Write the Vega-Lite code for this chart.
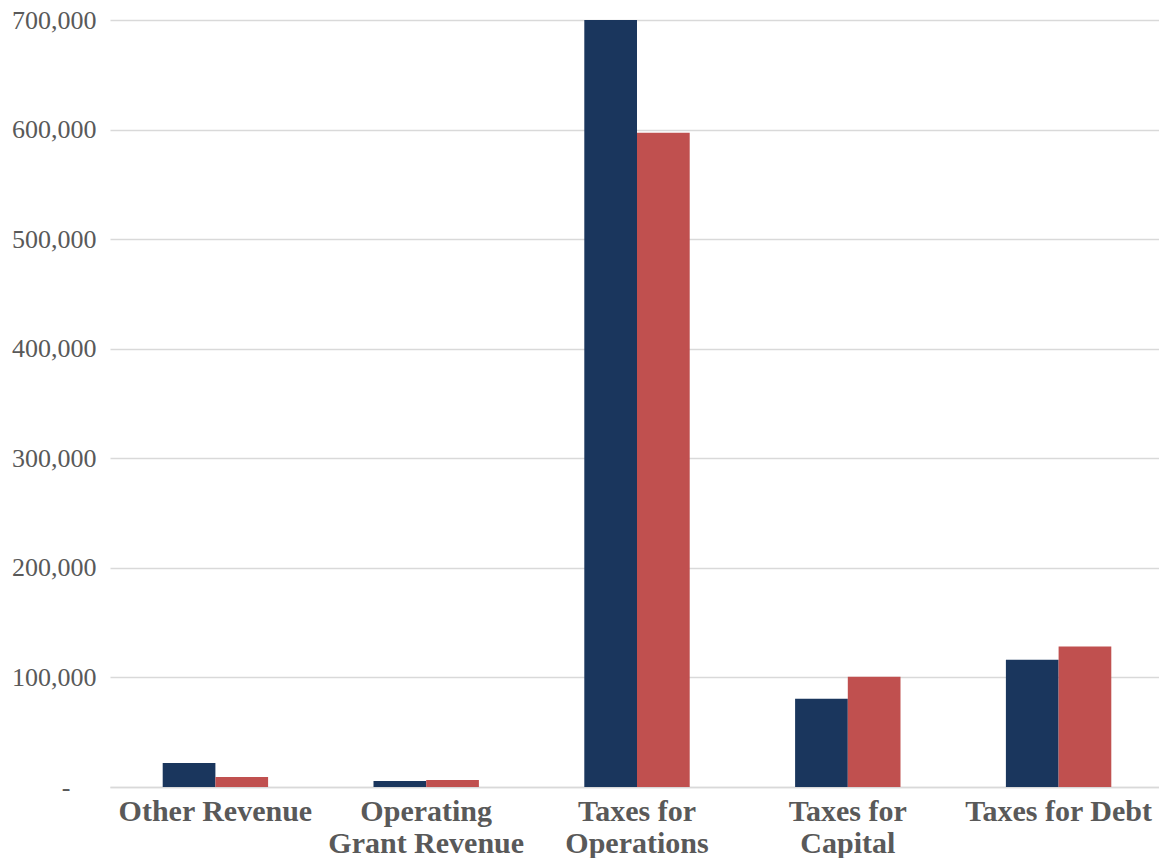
{
  "$schema": "https://vega.github.io/schema/vega-lite/v6.json",
  "width": 1049,
  "height": 767,
  "autosize": {"type": "none"},
  "padding": {"left": 110, "top": 20, "right": 0, "bottom": 71},
  "background": "white",
  "config": {
    "view": {"stroke": null},
    "font": "Liberation Serif"
  },
  "data": {
    "values": [
      {"category": "Other Revenue", "series": "Prior Year", "amount": 22000},
      {"category": "Other Revenue", "series": "Current Year", "amount": 9200},
      {"category": "Operating Grant Revenue", "series": "Prior Year", "amount": 5500},
      {"category": "Operating Grant Revenue", "series": "Current Year", "amount": 6400},
      {"category": "Taxes for Operations", "series": "Prior Year", "amount": 700000},
      {"category": "Taxes for Operations", "series": "Current Year", "amount": 597000},
      {"category": "Taxes for Capital", "series": "Prior Year", "amount": 80500},
      {"category": "Taxes for Capital", "series": "Current Year", "amount": 100600},
      {"category": "Taxes for Debt", "series": "Prior Year", "amount": 116200},
      {"category": "Taxes for Debt", "series": "Current Year", "amount": 128200}
    ]
  },
  "mark": {"type": "bar", "clip": true},
  "encoding": {
    "x": {
      "field": "category",
      "type": "nominal",
      "sort": ["Other Revenue", "Operating Grant Revenue", "Taxes for Operations", "Taxes for Capital", "Taxes for Debt"],
      "scale": {"paddingInner": 0.5, "paddingOuter": 0.25, "range": [0, 1054]},
      "axis": {
        "title": null,
        "labelAngle": 0,
        "domain": true,
        "domainColor": "#D9D9D9",
        "domainWidth": 1.5,
        "ticks": false,
        "labelFont": "Liberation Serif",
        "labelFontSize": 30,
        "labelFontWeight": "bold",
        "labelColor": "#595959",
        "labelPadding": 9,
        "labelBaseline": "top",
        "labelLineHeight": 32,
        "labelLimit": 0,
        "labelExpr": "datum.value == 'Operating Grant Revenue' ? ['Operating', 'Grant Revenue'] : datum.value == 'Taxes for Operations' ? ['Taxes for', 'Operations'] : datum.value == 'Taxes for Capital' ? ['Taxes for', 'Capital'] : datum.label"
      }
    },
    "xOffset": {
      "field": "series",
      "type": "nominal",
      "sort": ["Prior Year", "Current Year"],
      "scale": {"paddingInner": 0, "paddingOuter": 0}
    },
    "y": {
      "field": "amount",
      "type": "quantitative",
      "scale": {"domain": [0, 700000], "nice": false},
      "axis": {
        "title": null,
        "domain": false,
        "ticks": false,
        "grid": true,
        "gridColor": "#D9D9D9",
        "gridWidth": 1.5,
        "values": [0, 100000, 200000, 300000, 400000, 500000, 600000, 700000],
        "labelFont": "Liberation Serif",
        "labelFontSize": 26,
        "labelColor": "#595959",
        "labelPadding": {"condition": {"test": "datum.value == 0", "value": 40}, "value": 14},
        "labelExpr": "datum.value == 0 ? '-' : format(datum.value, ',')"
      }
    },
    "color": {
      "field": "series",
      "type": "nominal",
      "sort": ["Prior Year", "Current Year"],
      "scale": {"range": ["#1A365D", "#C0504F"]},
      "legend": null
    }
  }
}
